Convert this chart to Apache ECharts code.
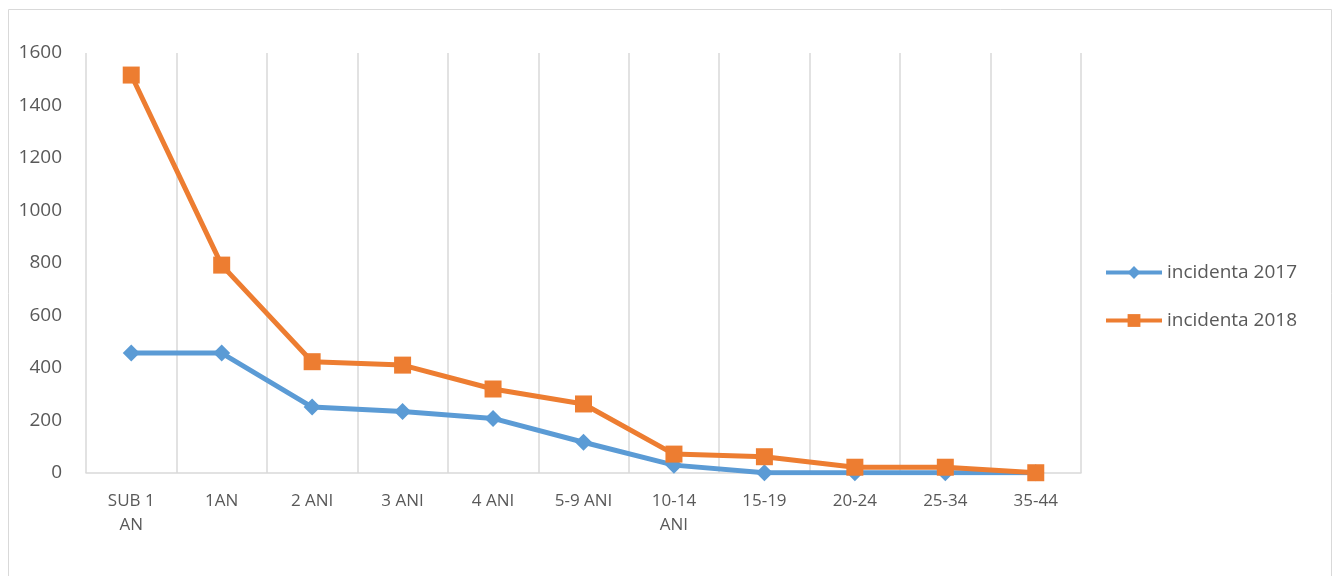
<!DOCTYPE html>
<html><head><meta charset="utf-8">
<script src="https://cdn.jsdelivr.net/npm/echarts@6/dist/echarts.min.js"></script>
<style>html,body{margin:0;padding:0;background:#fff}#c{width:1337px;height:576px}</style>
</head><body><div id="c"></div>
<script>
const categories = ['SUB 1\nAN','1AN','2 ANI','3 ANI','4 ANI','5-9 ANI','10-14\nANI','15-19','20-24','25-34','35-44'];
const series2017 = [457, 457, 251, 234, 208, 117, 30, 1, 1, 1, 1];
const series2018 = [1516, 792, 424, 411, 320, 263, 72, 62, 22, 22, 1];
const seriesNames = ['incidenta 2017', 'incidenta 2018'];
const yTicks = [0, 200, 400, 600, 800, 1000, 1200, 1400, 1600];

const chart = echarts.init(document.getElementById('c'));
const font = '"Open Sans", Lato, sans-serif';
chart.setOption({
  animation: false,
  textStyle: { fontFamily: font },
  graphic: [{ type: 'rect', shape: { x: 8.5, y: 9.5, width: 1323, height: 600 }, style: { fill: 'none', stroke: '#d9d9d9', lineWidth: 1 } }],
  grid: { left: 86, right: 256, top: 53, bottom: 103 },
  legend: {
    orient: 'vertical', left: 1099, top: 258, itemGap: 29,
    itemWidth: 56, itemHeight: 16,
    lineStyle: { width: 4 },
    textStyle: { fontSize: 19, color: '#595959', fontFamily: font },
    data: seriesNames
  },
  xAxis: {
    type: 'category', data: categories, boundaryGap: true,
    axisLine: { lineStyle: { color: '#d9d9d9', width: 1.5 } },
    axisTick: { show: false },
    splitLine: { show: true, lineStyle: { color: '#d9d9d9', width: 1.5 } },
    axisLabel: { color: '#595959', fontSize: 17, margin: 16, lineHeight: 24, interval: 0, fontFamily: font }
  },
  yAxis: {
    type: 'value', min: yTicks[0], max: yTicks[yTicks.length - 1], interval: 200,
    axisLine: { show: false }, axisTick: { show: false }, splitLine: { show: false },
    axisLabel: { color: '#595959', fontSize: 19, margin: 24, fontFamily: font, formatter: v => String(v) }
  },
  series: [
    { name: seriesNames[0], type: 'line', data: series2017, symbol: 'diamond', symbolSize: 17,
      itemStyle: { color: '#5B9BD5' }, lineStyle: { color: '#5B9BD5', width: 5 } },
    { name: seriesNames[1], type: 'line', data: series2018, symbol: 'rect', symbolSize: 17,
      itemStyle: { color: '#ED7D31' }, lineStyle: { color: '#ED7D31', width: 5 } }
  ]
});
</script></body></html>
